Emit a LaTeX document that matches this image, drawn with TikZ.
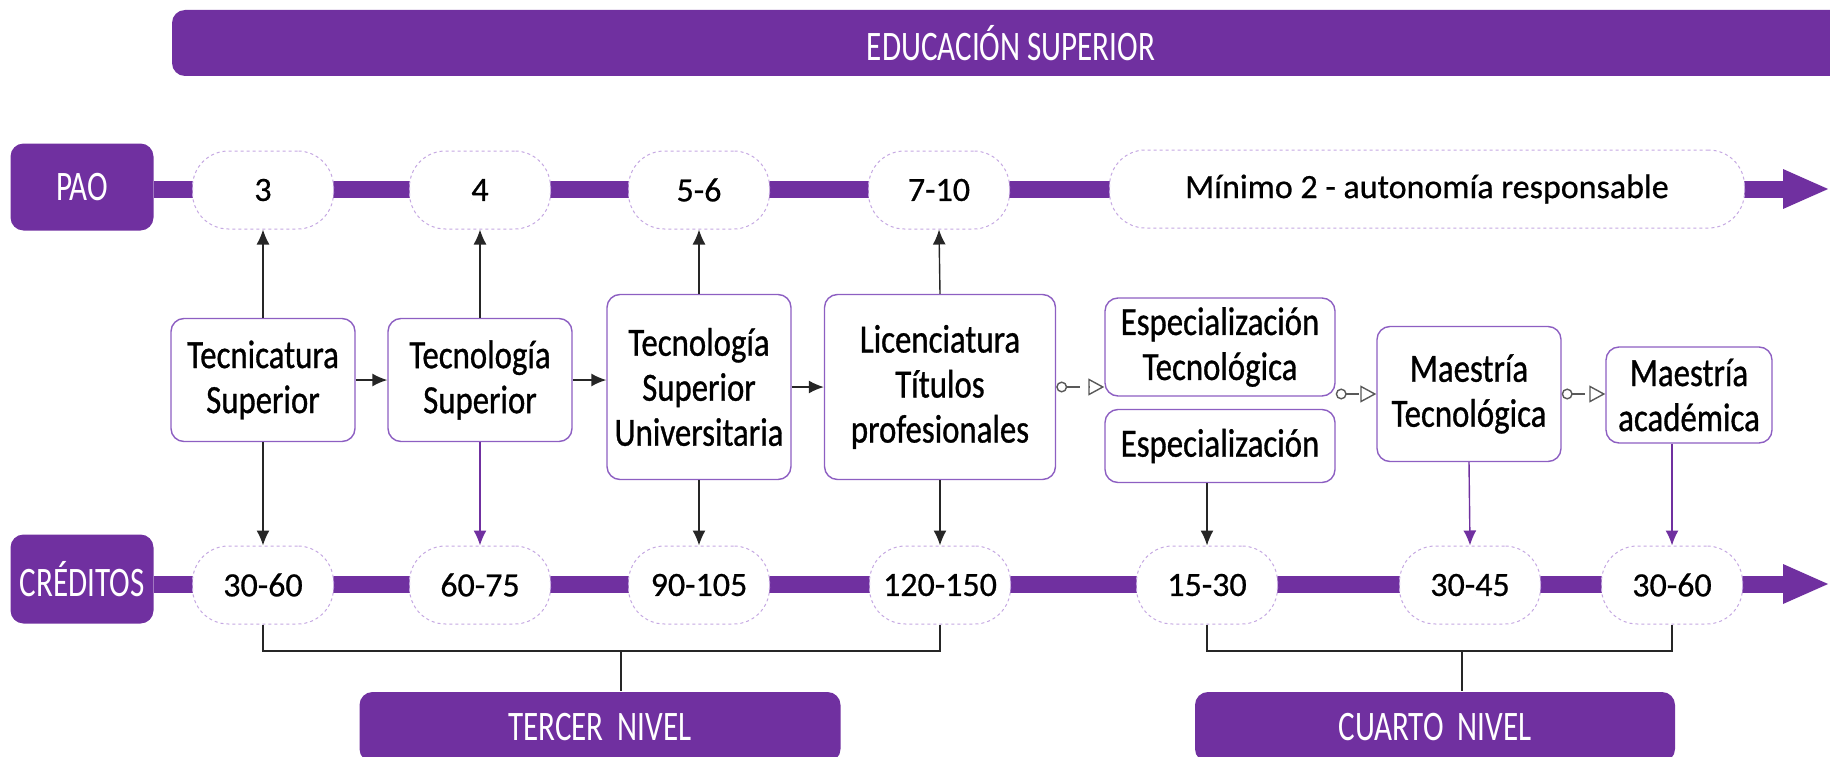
\documentclass[tikz,border=0pt]{standalone}
\usepackage{fontspec}
\setmainfont{Carlito}
\newfontfamily\dinfont[FakeStretch=0.74]{Carlito}
\newfontfamily\boxfont[FakeStretch=0.82, FakeBold=0.8]{Carlito}
\newfontfamily\pillfont[FakeBold=0.6]{Carlito}
\usetikzlibrary{arrows.meta}
\definecolor{lila}{HTML}{7030A0}
\definecolor{lilaline}{HTML}{8D5FC2}
\definecolor{lilapale}{HTML}{C5A8E2}
\definecolor{pfeil}{HTML}{262626}

\begin{document}
\begin{tikzpicture}[x=1pt, y=-1pt, every node/.style = {align=center, inner sep=2pt}, line width=1.4pt]
	\tikzstyle{band} = [fill=lila, rounded corners=13pt, text=white, font=\dinfont\fontsize{42}{46}\selectfont]
	\tikzstyle{pill} = [draw=lilapale, dashed, fill=white, rounded corners=36pt, line width=1pt, minimum width=141pt, minimum height=78pt, font=\pillfont\fontsize{34}{40}\selectfont]
	\tikzstyle{grado} = [draw=lilaline, fill=white, rounded corners=13pt, minimum width=184pt, font=\boxfont\fontsize{40}{45}\selectfont]
	\tikzstyle{bar} = [draw=lila, line width=17pt, -{Triangle[length=47pt,width=36pt]}]
	\tikzstyle{up} = [draw=pfeil, -{Latex[length=15pt,width=13pt]}]
	\tikzstyle{lup} = [draw=lila, -{Latex[length=15pt,width=13pt]}]
	\tikzstyle{link} = [draw=black!65, line width=1.4pt, {Circle[open,length=11pt]}-{Triangle[open,length=16pt,width=17pt]}, dash pattern=on 13pt off 9pt on 40pt]
	\tikzstyle{bracket} = [draw=pfeil, line width=1.2pt]
	\useasboundingbox (0,0) rectangle (1830,757);
	\clip (0,0) rectangle (1830,757);
	\node[band, minimum width=1678pt, minimum height=66pt] (educ) at (1011,43) {EDUCACIÓN SUPERIOR};
	\node[band, minimum width=143pt, minimum height=87pt] (pao) at (82,187) {PAO};
	\node[band, minimum width=143pt, minimum height=89pt] (cred) at (82,579) {CRÉDITOS};
	\node[band, minimum width=481pt, minimum height=70pt] (tercer) at (600,727) {TERCER\ \ NIVEL};
	\node[band, minimum width=480pt, minimum height=70pt] (cuarto) at (1435,727) {CUARTO\ \ NIVEL};
	\coordinate (paoend) at (1830,189);
	\coordinate (credend) at (1830,584);
	\draw[bar] (pao.east |- paoend) -- (paoend);
	\draw[bar] (cred.east |- credend) -- (credend);
	% PAO
	\node[pill] (p3) at (263,190) {3};
	\node[pill] (p4) at (480,190) {4};
	\node[pill] (p56) at (699,190) {5-6};
	\node[pill] (p710) at (939,190) {7-10};
	\node[pill, minimum width=635pt] (pmin) at (1427,189) {Mínimo 2 - autonomía responsable};
	% creditos
	\node[pill] (c1) at (263,585) {30-60};
	\node[pill] (c2) at (480,585) {60-75};
	\node[pill] (c3) at (699,585) {90-105};
	\node[pill] (c4) at (940,585) {120-150};
	\node[pill] (c5) at (1207,585) {15-30};
	\node[pill] (c6) at (1470,585) {30-45};
	\node[pill] (c7) at (1672,585) {30-60};
	% titulos
	\node[grado, minimum height=123pt] (tecnicatura) at (263,380) {Tecnicatura\\Superior};
	\node[grado, minimum height=123pt] (tecnologia) at (480,380) {Tecnología\\Superior};
	\node[grado, minimum height=185pt] (tsu) at (699,387) {Tecnología\\Superior\\Universitaria};
	\node[grado, minimum width=231pt, minimum height=185pt] (lic) at (940,387) {Licenciatura\\Títulos\\profesionales};
	\node[grado, minimum width=230pt, minimum height=98pt] (esptec) at (1220,347) {Especialización\\Tecnológica};
	\node[grado, minimum width=230pt, minimum height=73pt] (esp) at (1220,446) {Especialización};
	\node[grado, minimum height=135pt] (maetec) at (1469,394) {Maestría\\Tecnológica};
	\node[grado, minimum width=166pt, minimum height=96pt] (maeaca) at (1689,395) {Maestría\\académica};
	\draw[up] (tecnicatura.north) -- (p3.south);
	\draw[up] (tecnologia.north) -- (p4.south);
	\draw[up] (tsu.north) -- (p56.south);
	\draw[up] (lic.north) -- (p710.south);
	\draw[up] (tecnicatura.south) -- (c1.north);
	\draw[lup] (tecnologia.south) -- (c2.north);
	\draw[up] (tsu.south) -- (c3.north);
	\draw[up] (lic.south) -- (c4.north);
	\draw[up] (esp.south -| c5.north) -- (c5.north);
	\draw[lup] (maetec.south) -- (c6.north);
	\draw[lup] (maeaca.south -| c7.north) -- (c7.north);
	\draw[up] (tecnicatura.east) -- (tecnologia.west);
	\draw[up] (tecnologia.east) -- (tecnologia.east -| tsu.west);
	\draw[up] (tsu.east) -- (lic.west);
	\draw[link] (lic.east) -- (lic.east -| esptec.west);
	\draw[link] (maetec.west -| esptec.east) -- (maetec.west);
	\draw[link] (maetec.east) -- (maetec.east -| maeaca.west);
	% niveles
	\coordinate (tj) at (621,651);
	\draw[bracket] (c1.south) |- (tj) -| (c4.south);
	\draw[bracket] (tj) -- (tj |- tercer.north);
	\coordinate (cj) at (1462,651);
	\draw[bracket] (c5.south) |- (cj) -| (c7.south);
	\draw[bracket] (cj) -- (cj |- cuarto.north);
\end{tikzpicture}
\end{document}
